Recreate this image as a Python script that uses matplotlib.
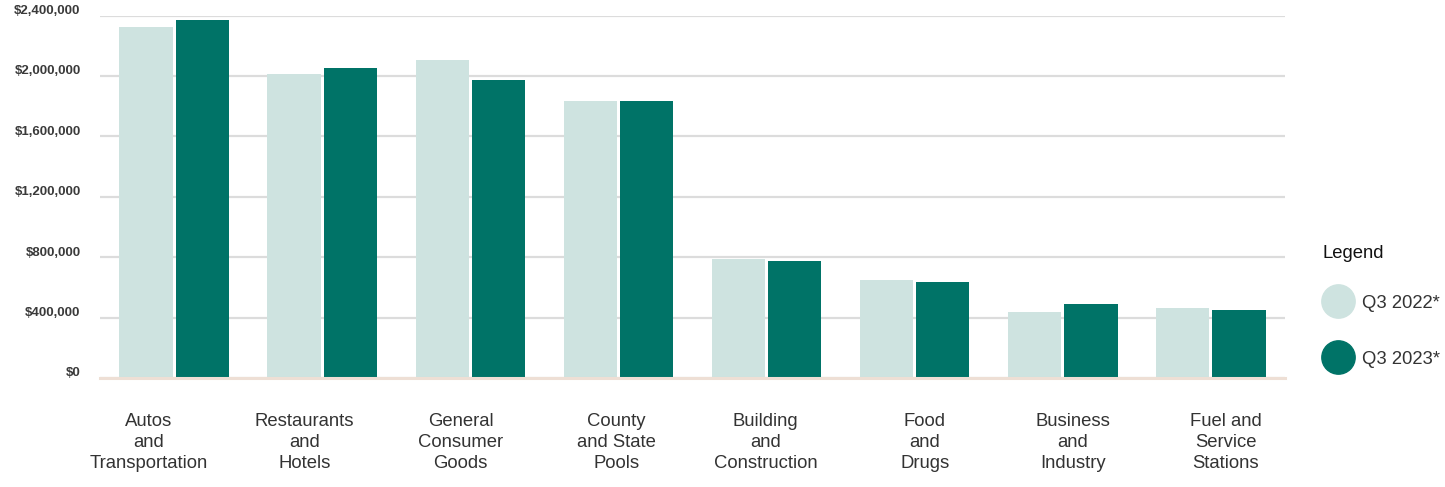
import matplotlib
matplotlib.use("Agg")
import matplotlib.pyplot as plt
import numpy as np
from matplotlib.lines import Line2D
from matplotlib.ticker import FuncFormatter
from matplotlib.transforms import ScaledTranslation

categories = ["Autos\nand\nTransportation", "Restaurants\nand\nHotels",
              "General\nConsumer\nGoods", "County\nand State\nPools",
              "Building\nand\nConstruction", "Food\nand\nDrugs",
              "Business\nand\nIndustry", "Fuel and\nService\nStations"]
q3_2022 = [2327000, 2015000, 2108000, 1836000, 789000, 650000, 438000, 464000]
q3_2023 = [2367000, 2055000, 1976000, 1836000, 776000, 636000, 490000, 451000]
series_labels = ["Q3 2022*", "Q3 2023*"]
yticks = [0, 400000, 800000, 1200000, 1600000, 2000000, 2400000]

# horizontal shift (pixels) of each category label relative to its bar group
label_shift_px = [-25.5, -17.6, -9.7, -1.8, -0.9, 10, 9.9, 14.8]

c_light = "#CEE3E0"
c_dark = "#007367"

plt.rcParams['font.family'] = ['Liberation Sans', 'DejaVu Sans']

DPI = 100
fig = plt.figure(figsize=(14.45, 4.87), dpi=DPI)
ax = fig.add_axes([100/1445, 1-378/487, 1185/1445, (378-15.5)/487])

x = np.arange(len(categories))
w = 0.36
off = 0.19
ax.bar(x - off, q3_2022, width=w, color=c_light, zorder=3)
ax.bar(x + off, q3_2023, width=w, color=c_dark, zorder=3)

ax.set_xlim(-0.5, len(categories) - 0.5)
ax.set_ylim(0, 2400000)
ax.set_yticks(yticks)
ax.yaxis.set_major_formatter(FuncFormatter(lambda v, p: "${:,.0f}".format(v)))
ax.grid(axis='y', color='#DCDCDC', linewidth=1.6, zorder=0)
ax.set_axisbelow(True)
for s in ax.spines.values():
    s.set_visible(False)
ax.axhline(0, color='#EEDFD5', linewidth=2.2, zorder=4, clip_on=False)

ax.set_xticks(x)
ax.set_xticklabels(categories, fontsize=13.3, color='#333333', linespacing=1.32)
ax.tick_params(axis='x', length=0, pad=25)
ax.tick_params(axis='y', length=0, pad=14)
for lbl, dx in zip(ax.get_xticklabels(), label_shift_px):
    lbl.set_transform(lbl.get_transform() + ScaledTranslation(dx / DPI, 0, fig.dpi_scale_trans))
for lbl in ax.get_yticklabels():
    lbl.set_fontsize(9.5)
    lbl.set_fontweight('bold')
    lbl.set_color('#3A3A3A')
    lbl.set_transform(lbl.get_transform() + ScaledTranslation(0, 6 / DPI, fig.dpi_scale_trans))

handles = [Line2D([], [], linestyle='none', marker='o', markersize=24,
                  markerfacecolor=c, markeredgecolor=c) for c in (c_light, c_dark)]
leg = fig.legend(handles, series_labels, loc='upper left',
                 bbox_to_anchor=(1318/1445, 1-285.5/487), frameon=False,
                 fontsize=13.3, labelspacing=2.1, handlelength=1.2,
                 handletextpad=0.68, borderpad=0, labelcolor='#333333')
fig.text(1322.5/1445, 1-254/487, "Legend", fontsize=13.3, color='#111111',
         ha='left', va='center')

fig.savefig("out.png", dpi=DPI)
